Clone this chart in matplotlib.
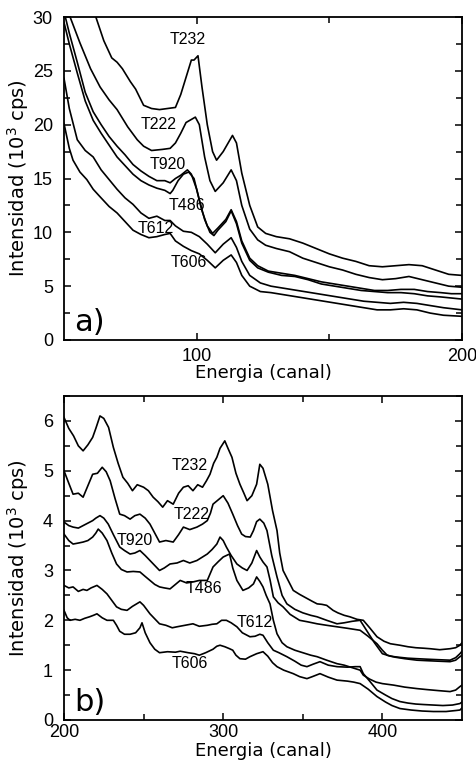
import matplotlib
matplotlib.use("Agg")
import matplotlib.pyplot as plt
from matplotlib.ticker import MultipleLocator, FixedLocator

# ---- panel a) channels 50-200 ----
a_t232_x = [58, 62, 65, 68, 70, 72, 75, 77, 80, 83, 86, 89, 92, 94, 96, 98, 99, 100.5, 102, 104, 106, 107.5,
            110, 113.5, 115, 117, 120, 123, 126, 130, 135, 140, 145, 150, 155, 160, 165, 170, 175, 180, 185,
            190, 195, 200]
a_t232_y = [33, 30, 27.8, 26.2, 25.8, 25.2, 24.0, 23.3, 21.8, 21.5, 21.4, 21.5, 21.6, 22.8, 24.4, 26.0, 26.0,
            26.4, 23.5, 20.0, 17.5, 16.7, 17.5, 19.0, 18.3, 15.5, 12.5, 10.5, 9.9, 9.6, 9.4, 9.0, 8.5, 8.0,
            7.6, 7.3, 6.9, 6.8, 6.9, 7.0, 6.9, 6.5, 6.1, 6.0]

a_t222_x = [50, 52.3, 56, 60, 63.6, 67, 70, 74, 77.6, 80, 83, 87, 90, 92, 94, 96, 99.5, 101, 103, 105, 107,
            110, 113, 115, 117, 120, 123, 126, 130, 135, 140, 145, 150, 155, 160, 165, 170, 175, 180, 185,
            190, 195, 200]
a_t222_y = [32, 30, 27.6, 25.2, 23.5, 22.3, 21.4, 19.8, 18.6, 18.0, 17.6, 17.7, 17.8, 18.3, 19.2, 20.2, 20.7,
            20.0, 17.0, 14.8, 13.8, 14.6, 15.8, 14.8, 12.5, 10.3, 9.3, 8.8, 8.5, 8.2, 7.6, 7.2, 6.8, 6.5,
            6.1, 5.8, 5.6, 5.7, 5.9, 5.6, 5.3, 5.0, 4.9]

a_t920_x = [50, 52, 55, 58, 61, 64, 67, 70, 73, 76, 79, 82, 85, 88, 90, 92, 94, 96.5, 98, 100, 102, 104, 106,
            108, 111, 113, 115, 117, 120, 123, 127, 132, 137, 142, 147, 152, 157, 162, 167, 172, 177, 182,
            187, 192, 196, 200]
a_t920_y = [30.5, 28.5, 25.8, 23.0, 21.2, 20.0, 18.9, 18.0, 17.2, 16.3, 15.7, 15.2, 14.8, 14.8, 14.6, 15.0,
            15.3, 15.8, 15.4, 14.0, 12.0, 10.6, 9.9, 10.4, 11.2, 12.1, 11.0, 9.2, 7.6, 6.9, 6.4, 6.2, 6.0,
            5.7, 5.4, 5.2, 5.0, 4.8, 4.6, 4.6, 4.7, 4.7, 4.5, 4.4, 4.3, 4.3]

a_t486_x = [50, 52, 55, 58, 61, 64, 67, 70, 73, 76, 79, 82, 85, 88, 90, 91, 93, 95, 97, 99, 101, 103, 105,
            106.5, 108, 111, 113, 115, 117, 120, 123, 127, 132, 137, 142, 147, 152, 157, 162, 167, 172, 177,
            182, 187, 192, 196, 200]
a_t486_y = [29.5, 27.5, 24.8, 22.2, 20.4, 19.2, 18.1, 17.0, 16.2, 15.4, 14.8, 14.4, 14.1, 13.9, 13.6, 13.9,
            14.8, 15.4, 15.6, 15.0, 13.0, 11.2, 10.0, 9.7, 10.2, 11.0, 12.0, 10.8, 9.0, 7.4, 6.7, 6.3, 6.0,
            5.9, 5.6, 5.2, 5.0, 4.8, 4.6, 4.5, 4.4, 4.4, 4.3, 4.1, 4.0, 3.9, 3.8]

a_t612_x = [50, 52, 55, 58, 61, 64, 67, 70, 73, 76, 79, 82, 85, 88, 90, 92, 95, 98, 101, 104, 107, 110, 113,
            115, 117, 120, 124, 128, 133, 138, 143, 148, 153, 158, 163, 168, 173, 178, 183, 188, 193, 200]
a_t612_y = [24.3, 21.5, 18.6, 17.6, 17.0, 15.8, 14.9, 14.0, 13.2, 12.6, 11.8, 11.3, 11.5, 11.1, 11.1, 10.6,
            10.1, 10.0, 9.6, 8.9, 8.1, 8.9, 9.5, 8.6, 7.3, 6.0, 5.3, 5.0, 4.8, 4.6, 4.4, 4.2, 4.0, 3.8, 3.6,
            3.5, 3.4, 3.5, 3.4, 3.2, 3.0, 2.8]

a_t606_x = [50, 52, 53.4, 56, 58.6, 61, 63.6, 67, 70, 73, 76, 79, 82, 85, 88, 90, 92, 95, 98, 101, 104, 107,
            110, 113, 115, 117, 120, 124, 128, 133, 138, 143, 148, 153, 158, 163, 168, 173, 178, 183, 188,
            193, 200]
a_t606_y = [20.1, 17.8, 16.7, 15.6, 14.9, 14.0, 13.3, 12.4, 11.8, 11.0, 10.2, 9.8, 9.5, 9.6, 9.8, 9.9, 9.2,
            8.7, 8.3, 8.0, 7.4, 6.7, 7.4, 7.9, 7.2, 6.0, 5.0, 4.5, 4.4, 4.2, 4.0, 3.8, 3.6, 3.4, 3.2, 3.0,
            2.8, 2.8, 2.9, 2.8, 2.5, 2.3, 2.2]

# ---- panel b) channels 200-450 ----
b_t232_x = [200, 203, 206, 209, 212, 215, 218, 220, 222.6, 225, 228, 231, 234, 237, 240, 243, 246, 250, 253,
            256, 259, 262, 265, 268.6, 272, 275, 278, 281, 284, 287, 289.5, 291.7, 294, 296, 298, 301, 303,
            305.5, 308, 310.5, 313, 315, 318, 321, 323, 325, 328, 331, 333.8, 335.5, 337.6, 340, 344, 348,
            352, 356, 359, 362, 365, 369, 372, 376, 379.6, 384, 388, 392, 396.6, 401, 405, 411, 416, 421,
            426, 430, 436, 442.5, 446, 448.7, 450]
b_t232_y = [6.07, 5.85, 5.70, 5.50, 5.40, 5.52, 5.67, 5.85, 6.10, 6.05, 5.87, 5.47, 5.15, 4.87, 4.75, 4.60,
            4.72, 4.67, 4.60, 4.47, 4.38, 4.27, 4.40, 4.33, 4.55, 4.67, 4.70, 4.60, 4.72, 4.67, 4.80, 4.93,
            5.15, 5.27, 5.45, 5.60, 5.45, 5.27, 4.95, 4.73, 4.55, 4.40, 4.50, 4.73, 5.13, 5.05, 4.73, 4.20,
            3.80, 3.35, 3.00, 2.85, 2.60, 2.52, 2.45, 2.38, 2.33, 2.32, 2.30, 2.20, 2.15, 2.10, 2.07, 2.02,
            2.00, 1.85, 1.67, 1.58, 1.53, 1.50, 1.47, 1.45, 1.44, 1.43, 1.41, 1.43, 1.45, 1.50, 1.55]

b_t222_x = [200, 203, 205.7, 209, 212, 215, 218, 221, 224, 226.5, 229, 232, 235, 238, 241.5, 244.5, 247.7,
            251, 254, 257, 260, 264, 268.6, 272, 275, 279, 283.5, 287, 290, 292, 293.6, 297, 300, 303, 306,
            309, 311.6, 314, 317, 319, 321, 323, 325.5, 327.5, 330.5, 333.8, 337, 340, 345, 350, 355, 359,
            365, 371.5, 376, 381, 386, 390, 395, 400, 405, 410, 416, 421.7, 428, 435, 442.5, 446, 448.7, 450]
b_t222_y = [5.00, 4.75, 4.53, 4.55, 4.47, 4.70, 4.93, 4.95, 5.07, 4.98, 4.80, 4.45, 4.13, 4.10, 4.03, 4.10,
            4.13, 4.05, 3.93, 3.75, 3.57, 3.60, 3.57, 3.72, 3.87, 3.82, 3.87, 3.93, 4.00, 4.15, 4.33, 4.42,
            4.50, 4.35, 4.13, 3.90, 3.73, 3.68, 3.67, 3.80, 3.98, 4.03, 3.95, 3.80, 3.30, 2.87, 2.50, 2.33,
            2.22, 2.15, 2.10, 2.07, 2.00, 1.93, 1.95, 1.98, 2.00, 1.80, 1.55, 1.33, 1.28, 1.26, 1.24, 1.23,
            1.22, 1.21, 1.20, 1.25, 1.33, 1.38]

b_t920_x = [200, 203, 205.7, 209, 212, 215, 218, 220, 222.6, 225, 227.8, 231, 235, 238, 241.5, 244.5, 247.7,
            251, 254, 257, 260, 263, 266.6, 271, 275, 279, 283.5, 287, 290, 293, 296, 298, 300, 302, 305,
            308.6, 312, 315, 318, 321, 323, 325, 327.5, 329.5, 331.5, 334.5, 337.6, 342, 348, 353, 359, 365,
            371.5, 378, 386, 391, 396.6, 400, 403, 408, 414, 421.7, 428, 435, 442.5, 446, 448.7, 450]
b_t920_y = [3.97, 3.90, 3.87, 3.85, 3.90, 3.95, 4.00, 4.05, 4.10, 4.05, 3.93, 3.72, 3.47, 3.40, 3.33, 3.35,
            3.40, 3.30, 3.20, 3.10, 3.00, 3.05, 3.13, 3.15, 3.20, 3.15, 3.20, 3.27, 3.33, 3.42, 3.53, 3.67,
            3.60, 3.47, 3.30, 3.13, 3.05, 3.00, 3.15, 3.40, 3.27, 3.17, 3.07, 2.80, 2.47, 2.35, 2.27, 2.12,
            2.00, 1.97, 1.93, 1.90, 1.87, 1.84, 1.80, 1.68, 1.53, 1.40, 1.30, 1.26, 1.23, 1.20, 1.19, 1.18,
            1.17, 1.20, 1.27, 1.30]

b_t486_x = [200, 203, 205.7, 209, 212, 215, 218, 220, 221.5, 224, 227, 230, 233, 236, 239.6, 243.5, 247.7,
            251, 254, 257, 260, 263, 266.6, 270, 273, 277, 281, 285, 290, 292, 293.6, 297, 300, 302, 304,
            306, 308.6, 312.4, 316, 319, 321, 323, 325, 327, 329.4, 331.5, 333.8, 337, 340, 345, 350, 355,
            359, 365, 371.5, 376, 381, 386, 388, 392, 396, 400, 407, 414, 421.7, 428, 435, 442.5, 446, 448.7,
            450]
b_t486_y = [3.73, 3.60, 3.53, 3.55, 3.57, 3.60, 3.67, 3.75, 3.83, 3.75, 3.60, 3.35, 3.13, 3.02, 2.97, 2.98,
            2.97, 2.88, 2.80, 2.72, 2.67, 2.65, 2.63, 2.72, 2.80, 2.75, 2.77, 2.80, 2.80, 2.95, 3.07, 3.18,
            3.27, 3.30, 3.33, 3.05, 2.80, 2.60, 2.65, 2.73, 2.87, 2.78, 2.67, 2.50, 2.33, 2.00, 1.73, 1.55,
            1.47, 1.40, 1.35, 1.30, 1.27, 1.20, 1.13, 1.10, 1.05, 1.00, 0.90, 0.82, 0.76, 0.73, 0.70, 0.66,
            0.63, 0.61, 0.59, 0.57, 0.60, 0.67, 0.70]

b_t612_x = [200, 203, 205.7, 209, 212, 214.4, 217, 220.7, 224, 227, 230, 233, 236, 239.6, 243, 247.7, 250,
            254, 257, 260, 264, 268, 271, 276, 281, 285, 290, 293, 296, 299, 302, 305, 308.6, 312, 316.8, 320,
            323, 325, 328, 331.5, 335, 340, 345, 349, 352.6, 356.5, 360.8, 366, 371.5, 378, 383, 386, 388,
            392, 396.6, 402, 406, 411, 416, 421, 426, 432, 438, 444, 448.7, 450]
b_t612_y = [2.70, 2.65, 2.67, 2.58, 2.62, 2.60, 2.65, 2.70, 2.62, 2.53, 2.40, 2.27, 2.22, 2.20, 2.28, 2.37,
            2.30, 2.13, 2.03, 1.93, 1.90, 1.85, 1.87, 1.90, 1.93, 1.88, 1.90, 1.92, 1.93, 2.00, 2.00, 1.95,
            1.87, 1.75, 1.67, 1.68, 1.72, 1.70, 1.55, 1.40, 1.35, 1.27, 1.18, 1.10, 1.07, 1.12, 1.17, 1.10,
            1.07, 1.06, 1.07, 1.07, 0.93, 0.78, 0.60, 0.50, 0.43, 0.37, 0.34, 0.32, 0.31, 0.30, 0.29, 0.30,
            0.33, 0.36]

b_t606_x = [200, 202, 203.8, 207, 210, 213, 216, 218.5, 220.7, 224, 227, 231, 233, 235, 238, 241.5, 245,
            247.7, 249, 251, 254, 257, 260, 265, 270, 273, 278, 282, 285, 289, 293.6, 296, 298, 301, 304, 306,
            308, 310.5, 314, 316.8, 321, 325, 328, 331, 333.8, 338, 344, 348, 352.6, 356, 360.8, 366, 371.5,
            378, 382, 386, 391, 396.6, 402, 406, 411, 418, 425, 432, 440, 446, 448.7, 450]
b_t606_y = [2.20, 2.05, 2.00, 2.02, 2.00, 2.04, 2.07, 2.10, 2.13, 2.05, 2.00, 2.00, 1.90, 1.78, 1.72, 1.72,
            1.75, 1.85, 1.95, 1.75, 1.55, 1.42, 1.35, 1.37, 1.36, 1.38, 1.35, 1.33, 1.30, 1.35, 1.42, 1.48,
            1.50, 1.47, 1.43, 1.40, 1.30, 1.23, 1.22, 1.27, 1.33, 1.37, 1.28, 1.15, 1.07, 1.00, 0.93, 0.87,
            0.83, 0.87, 0.93, 0.86, 0.80, 0.78, 0.76, 0.73, 0.62, 0.47, 0.36, 0.29, 0.23, 0.20, 0.18, 0.17,
            0.17, 0.19, 0.20, 0.24]

names = ["T232", "T222", "T920", "T486", "T612", "T606"]
a_label_pos = [(96.5, 27.9), (85.6, 20.0), (89, 16.3), (96.2, 12.5), (84.5, 10.4), (97, 7.2)]
b_label_pos = [(279, 5.1), (280, 4.12), (244.6, 3.6), (288, 2.64), (320, 1.96), (279, 1.14)]

a_curves = [(a_t232_x, a_t232_y), (a_t222_x, a_t222_y), (a_t920_x, a_t920_y),
            (a_t486_x, a_t486_y), (a_t612_x, a_t612_y), (a_t606_x, a_t606_y)]
b_curves = [(b_t232_x, b_t232_y), (b_t222_x, b_t222_y), (b_t920_x, b_t920_y),
            (b_t486_x, b_t486_y), (b_t612_x, b_t612_y), (b_t606_x, b_t606_y)]

fig = plt.figure(figsize=(4.77, 7.66), dpi=100)
ax_a = fig.add_axes([64 / 477, 1 - 340 / 766, 398 / 477, 323 / 766])
ax_b = fig.add_axes([64 / 477, 1 - 720 / 766, 398 / 477, 324 / 766])


def style(ax, xpad):
    for s in ax.spines.values():
        s.set_linewidth(1.3)
    ax.tick_params(which="both", direction="in", top=True, right=True, width=1.1)
    ax.tick_params(which="major", length=5)
    ax.tick_params(which="minor", length=4)
    ax.tick_params(axis="y", pad=8)
    ax.tick_params(axis="x", pad=xpad)
    for lab in ax.get_xticklabels() + ax.get_yticklabels():
        lab.set_fontfamily("Liberation Sans")
        lab.set_fontsize(13)
    ax.set_xlabel("Energia (canal)", fontsize=13, family="DejaVu Sans")
    ax.set_ylabel("Intensidad (10$^3$ cps)", fontsize=14, family="DejaVu Sans")


# panel a
for (x, y), name, pos in zip(a_curves, names, a_label_pos):
    ax_a.plot(x, y, color="black", lw=1.2)
    ax_a.text(pos[0], pos[1], name, ha="center", va="center", fontsize=11.5, family="Liberation Sans")
ax_a.set_xlim(50, 200)
ax_a.set_ylim(0, 30)
ax_a.xaxis.set_major_locator(FixedLocator([100, 200]))
ax_a.xaxis.set_minor_locator(FixedLocator([150]))
ax_a.yaxis.set_major_locator(MultipleLocator(5))
ax_a.yaxis.set_minor_locator(MultipleLocator(2.5))
style(ax_a, 6)
ax_a.text(0.025, 0.028, "a)", transform=ax_a.transAxes, fontsize=22, family="DejaVu Sans",
          ha="left", va="baseline")
ax_a.xaxis.set_label_coords(0.5, -0.074)
ax_a.yaxis.set_label_coords(-0.083, 0.5)

# panel b
for (x, y), name, pos in zip(b_curves, names, b_label_pos):
    ax_b.plot(x, y, color="black", lw=1.2)
    ax_b.text(pos[0], pos[1], name, ha="center", va="center", fontsize=11.5, family="Liberation Sans")
ax_b.set_xlim(200, 450)
ax_b.set_ylim(0, 6.5)
ax_b.xaxis.set_major_locator(FixedLocator([200, 300, 400]))
ax_b.xaxis.set_minor_locator(FixedLocator([250, 350]))
ax_b.yaxis.set_major_locator(MultipleLocator(1))
ax_b.yaxis.set_minor_locator(MultipleLocator(0.5))
style(ax_b, 3)
ax_b.text(0.025, 0.028, "b)", transform=ax_b.transAxes, fontsize=22, family="DejaVu Sans",
          ha="left", va="baseline")
ax_b.xaxis.set_label_coords(0.5, -0.068)
ax_b.yaxis.set_label_coords(-0.083, 0.5)

fig.savefig("out.png", dpi=100)
